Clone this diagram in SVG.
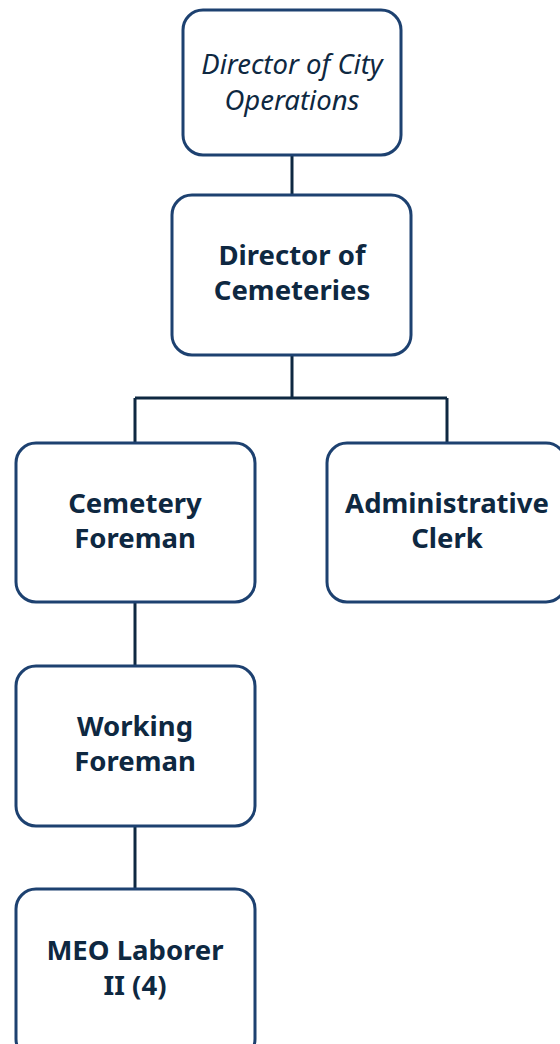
<svg xmlns="http://www.w3.org/2000/svg" width="560" height="1044" viewBox="0 0 560 1044">
  <style>
    .box { fill: #ffffff; stroke: #1d4170; stroke-width: 3; }
    .link { fill: none; stroke: #0e2841; stroke-width: 3; }
    .lbl { font-family: "Noto Sans", "Open Sans", sans-serif; font-size: 27.5px; fill: #0e2841; text-anchor: middle; }
    .b { font-weight: bold; }
    .i { font-style: italic; font-size: 27.5px; }
  </style>
  <rect width="560" height="1044" fill="#ffffff"/>

  <!-- reporting lines -->
  <g id="connectors">
    <path class="link" d="M292 155 V195"/>
    <path class="link" d="M292 355 V398 M135 398 H447 M135 398 V443 M447 398 V443"/>
    <path class="link" d="M135 602 V666"/>
    <path class="link" d="M135 826 V889"/>
  </g>

  <g id="director-city-operations">
    <rect class="box" x="183" y="10" width="218" height="145" rx="20"/>
    <text class="lbl i" x="292" y="74">Director of City</text>
    <text class="lbl i" x="292" y="110">Operations</text>
  </g>

  <g id="director-cemeteries">
    <rect class="box" x="172" y="195" width="239" height="160" rx="20"/>
    <text class="lbl b" x="292" y="265">Director of</text>
    <text class="lbl b" x="292" y="300">Cemeteries</text>
  </g>

  <g id="cemetery-foreman">
    <rect class="box" x="16" y="443" width="239" height="159" rx="20"/>
    <text class="lbl b" x="135" y="513">Cemetery</text>
    <text class="lbl b" x="135" y="548">Foreman</text>
  </g>

  <g id="administrative-clerk">
    <rect class="box" x="327" y="443" width="239" height="159" rx="20"/>
    <text class="lbl b" x="447" y="513">Administrative</text>
    <text class="lbl b" x="447" y="548">Clerk</text>
  </g>

  <g id="working-foreman">
    <rect class="box" x="16" y="666" width="239" height="160" rx="20"/>
    <text class="lbl b" x="135" y="736">Working</text>
    <text class="lbl b" x="135" y="771">Foreman</text>
  </g>

  <g id="meo-laborer">
    <rect class="box" x="16" y="889" width="239" height="170" rx="20"/>
    <text class="lbl b" x="135" y="960">MEO Laborer</text>
    <text class="lbl b" x="135" y="995">II (4)</text>
  </g>
</svg>
